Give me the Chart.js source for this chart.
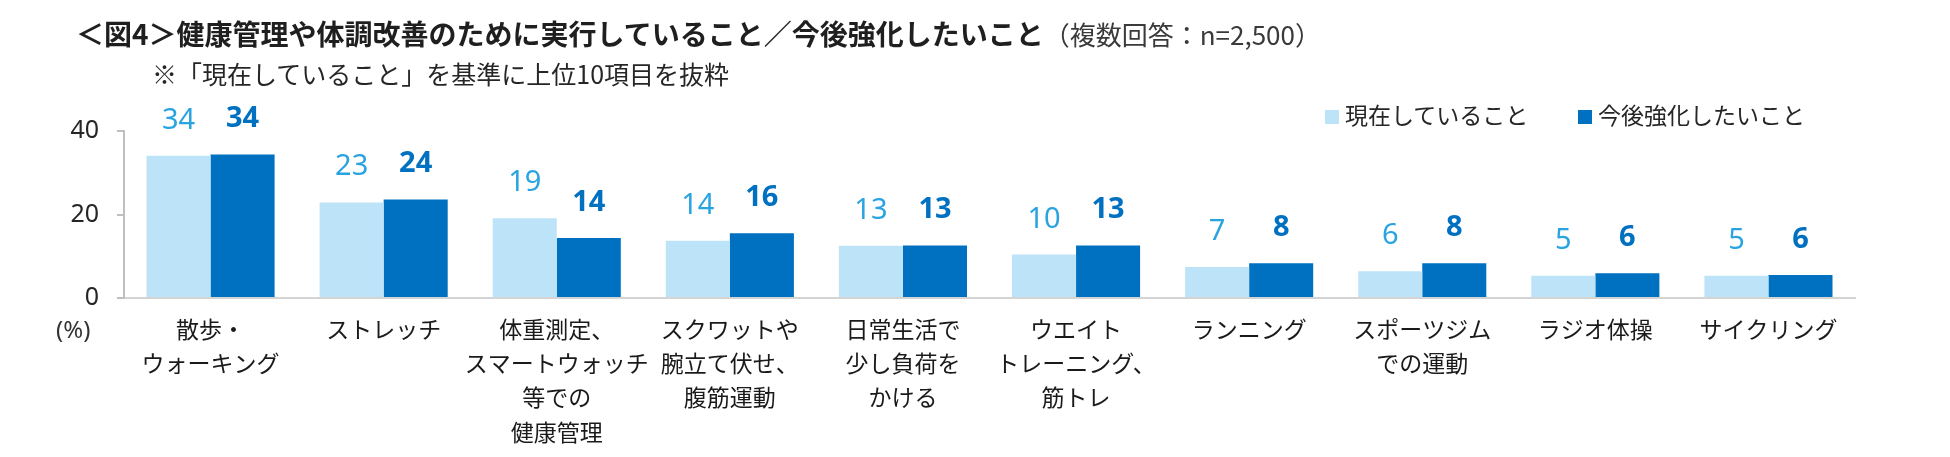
<!DOCTYPE html>
<html lang="ja">
<head>
<meta charset="utf-8">
<script src="https://cdn.jsdelivr.net/npm/chart.js@4"></script>
<style>
  html, body { margin: 0; padding: 0; background: #ffffff; }
  #wrap { position: relative; width: 1950px; height: 457px; overflow: hidden; }
  #c { position: absolute; left: 0; top: 0; }
  .t { position: absolute; white-space: nowrap; font-family: "Noto Sans CJK JP", sans-serif; }
  #title { left: 76px; top: 19px; font-size: 28px; line-height: 28px; font-weight: 700; color: #1f1f1f; }
  #title span { font-size: 26px; font-weight: 400; color: #3a3a3a; }
  #sub { left: 152px; top: 61px; font-size: 25px; line-height: 25px; color: #262626; }
  #unit { left: 56px; top: 317px; font-size: 24px; line-height: 24px; color: #333333; font-family: "Noto Sans", sans-serif; }
  .leg { position: absolute; top: 103px; font-size: 23px; line-height: 23px; color: #262626; font-family: "Noto Sans CJK JP", sans-serif; white-space: nowrap; }
  .sw { position: absolute; width: 14px; height: 14px; top: 110px; }
</style>
</head>
<body>
<div id="wrap">
  <canvas id="c" width="1950" height="457"></canvas>
  <div class="t" id="title">＜図4＞健康管理や体調改善のために実行していること／今後強化したいこと<span>（複数回答：n=2,500）</span></div>
  <div class="t" id="sub">※「現在していること」を基準に上位10項目を抜粋</div>
  <div class="t" id="unit">(%)</div>
  <div class="sw" id="sw1" style="left:1325px;background:#BDE3F8;"></div>
  <div class="leg" id="lg1" style="left:1345px;"></div>
  <div class="sw" id="sw2" style="left:1578px;background:#0070C0;"></div>
  <div class="leg" id="lg2" style="left:1598px;"></div>
</div>
<script>
// ---- data ----
const categories = [
  ["散歩・", "ウォーキング"],
  "ストレッチ",
  ["体重測定、", "スマートウォッチ", "等での", "健康管理"],
  ["スクワットや", "腕立て伏せ、", "腹筋運動"],
  ["日常生活で", "少し負荷を", "かける"],
  ["ウエイト", "トレーニング、", "筋トレ"],
  "ランニング",
  ["スポーツジム", "での運動"],
  "ラジオ体操",
  "サイクリング"
];
const seriesNames = ["現在していること", "今後強化したいこと"];
const currentValues = [34.1, 22.9, 19.1, 13.7, 12.5, 10.4, 7.4, 6.4, 5.3, 5.3];
const futureValues  = [34.4, 23.6, 14.4, 15.5, 12.6, 12.6, 8.3, 8.3, 5.9, 5.5];
const currentLabels = [34, 23, 19, 14, 13, 10, 7, 6, 5, 5];
const futureLabels  = [34, 24, 14, 16, 13, 13, 8, 8, 6, 6];
const yTicks = [0, 20, 40];

document.getElementById('lg1').textContent = seriesNames[0];
document.getElementById('lg2').textContent = seriesNames[1];

const valueLabelPlugin = {
  id: 'valueLabels',
  afterDatasetsDraw(chart) {
    const ctx = chart.ctx;
    const labelSets = [currentLabels, futureLabels];
    ctx.save();
    ctx.textAlign = 'center';
    ctx.textBaseline = 'alphabetic';
    chart.data.datasets.forEach((ds, i) => {
      const meta = chart.getDatasetMeta(i);
      ctx.fillStyle = i === 0 ? '#2AA4E0' : '#0070C0';
      ctx.font = (i === 0 ? '400 ' : '700 ') + '29px "Noto Sans", sans-serif';
      meta.data.forEach((bar, j) => {
        ctx.fillText(String(labelSets[i][j]), bar.x, bar.y - 27);
      });
    });
    ctx.restore();
  }
};

new Chart(document.getElementById('c'), {
  type: 'bar',
  data: {
    labels: categories,
    datasets: [
      { label: seriesNames[0], data: currentValues, backgroundColor: '#BDE3F8', borderWidth: 0,
        categoryPercentage: 0.74, barPercentage: 1.0 },
      { label: seriesNames[1], data: futureValues, backgroundColor: '#0070C0', borderWidth: 0,
        categoryPercentage: 0.74, barPercentage: 1.0 }
    ]
  },
  options: {
    responsive: false,
    animation: false,
    devicePixelRatio: 1,
    layout: { padding: { top: 131, right: 95, bottom: 0, left: 0 } },
    plugins: {
      legend: { display: false },
      title: { display: false },
      tooltip: { enabled: false }
    },
    scales: {
      x: {
        grid: { display: false },
        border: { display: true, color: '#D4D4D4', width: 2 },
        ticks: {
          autoSkip: false, maxRotation: 0, minRotation: 0, padding: 6,
          color: '#1a1a1a',
          font: { family: '"Noto Sans CJK JP", sans-serif', size: 23, lineHeight: '34.3px' }
        },
        afterFit(scale) { scale.height = 159; }
      },
      y: {
        min: 0, max: 40,
        afterBuildTicks(scale) { scale.ticks = yTicks.map(v => ({ value: v })); },
        grid: { display: true, drawOnChartArea: false, drawTicks: true, tickLength: 7, color: '#BFBFBF', lineWidth: 2 },
        border: { display: true, color: '#BFBFBF', width: 2 },
        ticks: {
          padding: 18, color: '#262626',
          font: { family: '"Noto Sans", sans-serif', size: 25 }
        },
        afterFit(scale) { scale.width = 124; }
      }
    }
  },
  plugins: [valueLabelPlugin]
});
</script>
</body>
</html>
